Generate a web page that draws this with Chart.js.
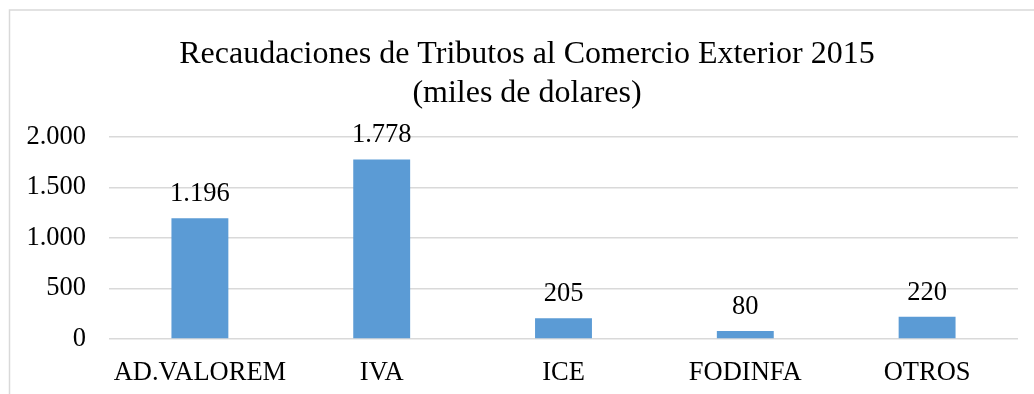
<!DOCTYPE html>
<html>
<head>
<meta charset="utf-8">
<script src="https://cdn.jsdelivr.net/npm/chart.js@4/dist/chart.umd.min.js"></script>
<style>
  html, body { margin: 0; padding: 0; background: #fff; }
  #wrap { width: 1034px; height: 394px; }
</style>
</head>
<body>
<div id="wrap"><canvas id="tributos" width="1034" height="394"></canvas></div>
<script>
// ── Datos ─────────────────────────────────────────────────────
const categorias = ['AD.VALOREM', 'IVA', 'ICE', 'FODINFA', 'OTROS'];
const recaudacion = [1196, 1778, 205, 80, 220];
const titulo = ['Recaudaciones de Tributos al Comercio Exterior 2015', '(miles de dolares)'];
const ejeY = { min: 0, max: 2000, paso: 500 };

const FONT = "'Liberation Serif', 'Times New Roman', serif";
const GRIS = '#d9d9d9';
const TXT = 26.5;

// separador de miles con punto (1.196)
const miles = v => String(v).replace(/\B(?=(\d{3})+(?!\d))/g, '.');

// ── Plugins ───────────────────────────────────────────────────
// marco del gráfico (sólo se ven los bordes superior e izquierdo)
const marco = {
  id: 'marco',
  beforeDraw(chart) {
    const c = chart.ctx;
    c.save();
    c.strokeStyle = GRIS;
    c.lineWidth = 1.5;
    c.beginPath();
    c.moveTo(9.5, 394);
    c.lineTo(9.5, 10);
    c.lineTo(1034, 10);
    c.stroke();
    c.restore();
  }
};

// título centrado sobre el marco completo, no sobre el área del gráfico
const encabezado = {
  id: 'encabezado',
  afterDraw(chart) {
    const c = chart.ctx;
    c.save();
    c.font = `32px ${FONT}`;
    c.fillStyle = '#000';
    c.textAlign = 'center';
    c.textBaseline = 'alphabetic';
    c.fillText(titulo[0], 527, 63);
    c.fillText(titulo[1], 527, 102);
    c.restore();
  }
};

const etiquetas = {
  id: 'etiquetas',
  afterDatasetsDraw(chart) {
    const c = chart.ctx;
    const meta = chart.getDatasetMeta(0);
    c.save();
    c.font = `${TXT}px ${FONT}`;
    c.fillStyle = '#000';
    c.textAlign = 'center';
    c.textBaseline = 'alphabetic';
    meta.data.forEach((bar, i) => {
      c.fillText(miles(recaudacion[i]), bar.x, bar.y - 17);
    });
    c.restore();
  }
};

// ── Gráfico ───────────────────────────────────────────────────
new Chart(document.getElementById('tributos'), {
  type: 'bar',
  data: {
    labels: categorias,
    datasets: [{
      data: recaudacion,
      backgroundColor: '#5b9bd5',
      borderWidth: 0,
      categoryPercentage: 1,
      barPercentage: 0.313
    }]
  },
  options: {
    responsive: false,
    animation: false,
    layout: { padding: { left: 0, right: 16, top: 137, bottom: 0 } },
    plugins: {
      legend: { display: false },
      tooltip: { enabled: false },
      title: { display: false }
    },
    scales: {
      x: {
        grid: { display: false },
        border: { display: false },
        ticks: { color: '#000', font: { family: FONT, size: TXT }, padding: 10 },
        afterFit: s => { s.height = 394 - 339; }
      },
      y: {
        min: ejeY.min,
        max: ejeY.max,
        grid: { color: GRIS, lineWidth: 1.5, drawTicks: false },
        border: { display: false },
        ticks: {
          stepSize: ejeY.paso,
          color: '#000',
          font: { family: FONT, size: TXT },
          padding: 23,
          callback: v => miles(v)
        },
        afterFit: s => { s.width = 109; }
      }
    }
  },
  plugins: [marco, encabezado, etiquetas]
});
</script>
</body>
</html>
